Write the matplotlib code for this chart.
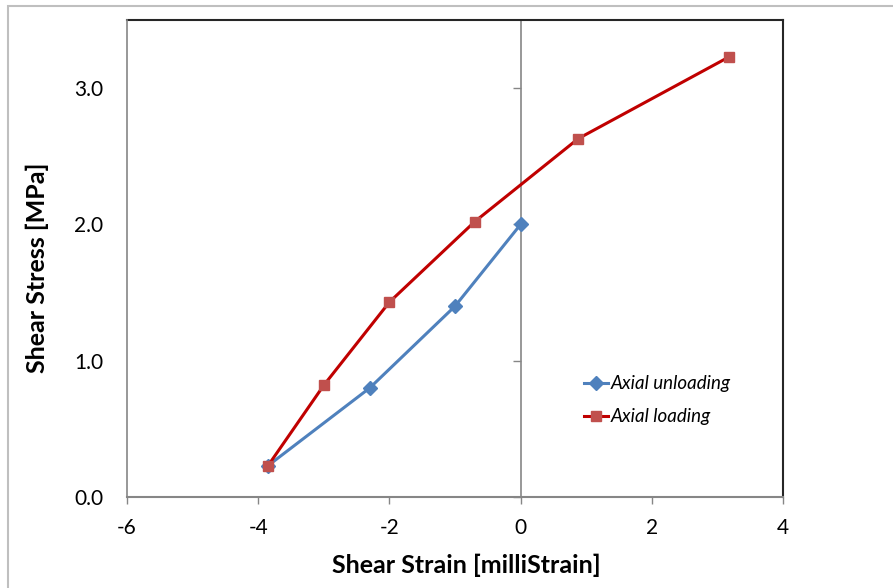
import matplotlib
matplotlib.use('Agg')
import matplotlib.pyplot as plt
from matplotlib.patches import Rectangle

plt.rcParams['font.family'] = ['Lato', 'DejaVu Sans']

# Axial unloading (blue diamonds)
unload_strain = [-3.85, -2.3, -1.0, 0.0]
unload_stress = [0.23, 0.80, 1.40, 2.00]

# Axial loading (red squares)
load_strain = [-3.85, -3.0, -2.0, -0.7, 0.88, 3.18]
load_stress = [0.23, 0.82, 1.43, 2.02, 2.63, 3.23]

xticks = [-6, -4, -2, 0, 2, 4]
yticks = [0.0, 1.0, 2.0, 3.0]

fig = plt.figure(figsize=(8.93, 5.88), dpi=100)
fig.patches.append(Rectangle((8 / 893, -0.1), 1.2, (582 / 588) + 0.1, transform=fig.transFigure,
                             fill=False, edgecolor='#bfbfbf', linewidth=1.5))

pos = [127 / 893, 91 / 588, 656 / 893, 477 / 588]
ax = fig.add_axes(pos)

ax.plot(unload_strain, unload_stress, color='#4F81BD', lw=2.2, marker='D', ms=7,
        markerfacecolor='#4F81BD', markeredgecolor='#4F81BD', label='Axial unloading', zorder=3)
ax.plot(load_strain, load_stress, color='#C00000', lw=2.2, marker='s', ms=7,
        markerfacecolor='#C0504D', markeredgecolor='#C0504D', label='Axial loading', zorder=4)

ax.set_xlim(-6, 4)
ax.set_ylim(0, 3.5)
ax.set_xticks(xticks)
ax.set_xticklabels([str(t) for t in xticks])
ax.set_yticks(yticks)

# y axis crosses at x = 0
ax.spines['left'].set_position(('data', 0))
ax.spines['left'].set_color('#868686')
ax.spines['left'].set_linewidth(1.2)
ax.spines['bottom'].set_color('#868686')
ax.spines['bottom'].set_linewidth(1.5)
ax.spines['top'].set_color('#262626')
ax.spines['right'].set_color('#262626')
ax.spines['top'].set_linewidth(1.5)
ax.spines['right'].set_linewidth(1.5)
ax.tick_params(axis='y', direction='out', length=6, width=1, color='#868686', labelleft=False)
ax.tick_params(axis='x', direction='out', length=5, width=1, color='#868686',
               labelsize=15, pad=10)

ax.set_xlabel('Shear Strain [milliStrain]', fontsize=18, fontweight='bold')
ax.xaxis.set_label_coords(0.518, -0.143)
ax.xaxis.label.set_verticalalignment('center')

# overlay axes for the left border and y tick labels
ax2 = fig.add_axes(pos, sharey=ax)
ax2.patch.set_alpha(0)
for s in ['top', 'right', 'bottom']:
    ax2.spines[s].set_visible(False)
ax2.spines['left'].set_color('#868686')
ax2.spines['left'].set_linewidth(1.2)
ax2.set_xticks([])
ax2.set_yticks(yticks)
ax2.set_yticklabels(['%.1f' % t for t in yticks])
ax2.tick_params(axis='y', length=0, labelsize=15, pad=17)
ax2.set_ylabel('Shear Stress [MPa]', fontsize=18, fontweight='bold')
ax2.yaxis.set_label_coords(-0.137, 0.48)
ax2.yaxis.label.set_verticalalignment('center')

leg = ax.legend(loc='upper left', bbox_to_anchor=(0.683, 0.275), frameon=False,
                prop={'style': 'italic', 'size': 13.5}, handlelength=1.25, handletextpad=0.15,
                labelspacing=0.85, borderpad=0)

fig.savefig('out.png', dpi=100)
